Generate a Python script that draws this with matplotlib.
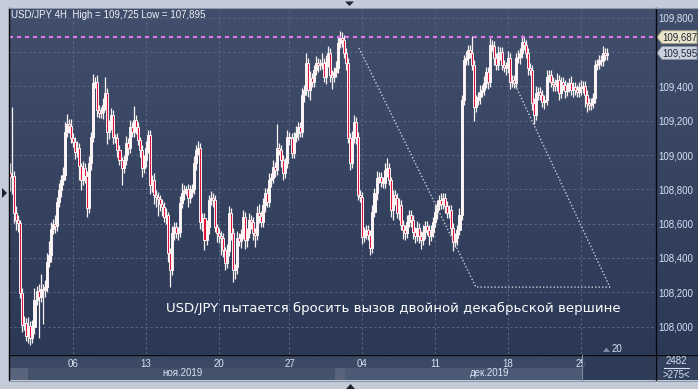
import numpy as np
import matplotlib
matplotlib.use('Agg')
import matplotlib.pyplot as plt
import matplotlib.transforms as mtrans
from matplotlib.patches import Rectangle, Polygon
from matplotlib.colors import LinearSegmentedColormap

W, H = 698, 389

# ---------------- data (USD/JPY 4H candles) ----------------
first_open = 108.895
closes = [
    108.872, 108.878, 108.662, 108.621, 108.604, 108.195, 108.009, 108.020, 107.945, 108.003,
    107.935, 107.997, 108.155, 108.207, 108.172, 108.219, 108.213, 108.230, 108.376, 108.417,
    108.569, 108.598, 108.586, 108.726, 108.796, 108.854, 108.883, 109.134, 109.181, 109.169,
    109.099, 109.076, 109.017, 109.041, 108.936, 108.854, 108.924, 108.878, 108.691, 108.953,
    109.105, 109.420, 109.426, 109.262, 109.245, 109.251, 109.292, 109.362, 109.134, 109.175,
    109.233, 109.105, 109.099, 109.029, 108.971, 108.924, 108.971, 109.070, 109.041, 109.163,
    109.134, 109.204, 109.163, 109.087, 109.029, 108.924, 108.971, 109.041, 109.117, 108.825,
    108.854, 108.767, 108.755, 108.744, 108.714, 108.697, 108.639, 108.650, 108.429, 108.330,
    108.545, 108.580, 108.545, 108.551, 108.720, 108.778, 108.796, 108.802, 108.749, 108.784,
    108.802, 108.953, 109.029, 109.041, 108.609, 108.633, 108.504, 108.580, 108.738, 108.749,
    108.738, 108.580, 108.545, 108.528, 108.516, 108.446, 108.370, 108.440, 108.662, 108.545,
    108.330, 108.347, 108.516, 108.499, 108.539, 108.639, 108.504, 108.545, 108.621, 108.609,
    108.545, 108.534, 108.662, 108.644, 108.609, 108.708, 108.778, 108.726, 108.854, 108.866,
    108.930, 108.913, 109.041, 109.029, 108.971, 108.895, 108.953, 109.105, 109.099, 109.012,
    109.105, 109.128, 109.163, 109.134, 109.350, 109.379, 109.536, 109.379, 109.449, 109.426,
    109.496, 109.536, 109.525, 109.531, 109.536, 109.455, 109.542, 109.595, 109.467, 109.455,
    109.484, 109.507, 109.653, 109.685, 109.671, 109.595, 109.536, 109.099, 108.953, 109.099,
    109.192, 109.105, 108.767, 108.755, 108.522, 108.551, 108.563, 108.534, 108.458, 108.668,
    108.778, 108.866, 108.872, 108.843, 108.837, 108.913, 108.924, 108.854, 108.679, 108.767,
    108.749, 108.662, 108.708, 108.592, 108.563, 108.545, 108.609, 108.650, 108.621, 108.551,
    108.528, 108.574, 108.528, 108.504, 108.551, 108.586, 108.563, 108.528, 108.551, 108.609,
    108.668, 108.708, 108.738, 108.714, 108.749, 108.703, 108.662, 108.679, 108.574, 108.493,
    108.516, 108.563, 108.650, 109.321, 109.554, 109.566, 109.612, 109.595, 109.525, 109.280,
    109.321, 109.338, 109.367, 109.379, 109.420, 109.484, 109.426, 109.641, 109.636, 109.566,
    109.525, 109.595, 109.601, 109.525, 109.513, 109.507, 109.566, 109.426, 109.437, 109.420,
    109.566, 109.571, 109.595, 109.659, 109.641, 109.595, 109.507, 109.496, 109.303, 109.233,
    109.362, 109.367, 109.350, 109.309, 109.321, 109.455, 109.467, 109.426, 109.414, 109.402,
    109.437, 109.362, 109.426, 109.408, 109.373, 109.397, 109.420, 109.379, 109.397, 109.379,
    109.367, 109.397, 109.391, 109.402, 109.350, 109.303, 109.292, 109.303, 109.332, 109.525,
    109.531, 109.554, 109.548, 109.595, 109.583, 109.595,
]
# wick lengths above / below the candle body, in pips (0.01 JPY)
up_wick_pips = [
    6, 40, 3, 4, 3, 2, 3, 4, 3, 5,
    3, 4, 7, 3, 4, 9, 3, 4, 5, 8,
    4, 3, 5, 3, 4, 3, 5, 6, 6, 3,
    4, 3, 3, 4, 3, 2, 4, 3, 3, 4,
    3, 5, 3, 4, 3, 3, 4, 9, 3, 3,
    4, 3, 2, 3, 3, 2, 3, 4, 3, 4,
    3, 8, 3, 3, 2, 3, 3, 4, 3, 3,
    3, 4, 3, 3, 2, 3, 3, 4, 2, 3,
    4, 3, 3, 3, 4, 6, 3, 2, 3, 4,
    3, 4, 3, 4, 3, 3, 3, 4, 3, 4,
    3, 3, 2, 3, 3, 3, 2, 4, 4, 3,
    3, 2, 4, 3, 3, 4, 3, 3, 4, 3,
    3, 3, 4, 5, 3, 4, 3, 3, 4, 3,
    4, 3, 14, 3, 3, 3, 3, 4, 3, 3,
    3, 4, 3, 3, 4, 3, 6, 3, 4, 3,
    3, 4, 3, 3, 6, 3, 4, 4, 3, 3,
    3, 4, 4, 4, 3, 3, 3, 3, 3, 4,
    4, 3, 3, 3, 3, 3, 3, 3, 3, 4,
    3, 4, 3, 3, 3, 4, 6, 3, 2, 3,
    3, 3, 4, 3, 3, 3, 4, 3, 3, 3,
    3, 4, 3, 3, 4, 3, 3, 3, 4, 3,
    4, 3, 3, 4, 3, 3, 3, 3, 3, 3,
    3, 3, 4, 3, 3, 4, 3, 3, 10, 3,
    3, 3, 4, 3, 4, 3, 3, 4, 3, 3,
    3, 4, 3, 3, 3, 3, 4, 3, 3, 3,
    3, 4, 3, 4, 3, 3, 3, 3, 3, 3,
    4, 3, 3, 3, 3, 4, 3, 3, 3, 3,
    4, 3, 3, 3, 3, 3, 3, 4, 3, 3,
    3, 3, 4, 3, 3, 3, 3, 3, 3, 3,
    3, 3, 3, 4, 3, 3,
]
dn_wick_pips = [
    8, 10, 6, 6, 5, 3, 4, 3, 3, 4,
    4, 3, 4, 3, 24, 3, 20, 4, 3, 3,
    4, 3, 4, 3, 3, 4, 3, 3, 3, 4,
    3, 3, 4, 3, 8, 6, 3, 4, 5, 3,
    4, 3, 3, 4, 3, 3, 4, 3, 7, 4,
    3, 4, 3, 4, 3, 10, 3, 3, 4, 3,
    3, 3, 4, 3, 4, 5, 3, 4, 3, 5,
    4, 5, 6, 10, 4, 5, 3, 4, 5, 10,
    3, 4, 3, 4, 3, 3, 4, 3, 5, 3,
    3, 3, 4, 3, 4, 5, 6, 3, 4, 3,
    4, 3, 5, 4, 10, 4, 4, 3, 3, 4,
    7, 5, 4, 3, 4, 3, 5, 4, 3, 4,
    4, 7, 3, 4, 3, 3, 4, 3, 3, 4,
    3, 4, 3, 3, 4, 4, 3, 3, 4, 3,
    3, 3, 4, 3, 3, 4, 3, 4, 6, 3,
    3, 3, 4, 3, 3, 3, 4, 3, 4, 7,
    3, 3, 3, 3, 4, 3, 4, 3, 4, 3,
    3, 4, 3, 3, 4, 3, 4, 3, 4, 3,
    3, 4, 3, 3, 3, 3, 4, 3, 4, 6,
    4, 3, 4, 3, 5, 4, 3, 3, 4, 4,
    4, 3, 4, 5, 3, 4, 3, 5, 3, 3,
    3, 4, 3, 3, 3, 4, 3, 3, 4, 5,
    3, 4, 3, 3, 3, 3, 4, 3, 3, 8,
    3, 3, 4, 3, 3, 3, 4, 3, 3, 4,
    3, 3, 4, 3, 3, 4, 3, 4, 3, 3,
    3, 3, 4, 3, 3, 3, 4, 3, 4, 5,
    3, 4, 3, 3, 4, 3, 3, 3, 4, 3,
    3, 4, 3, 3, 4, 3, 3, 3, 4, 3,
    3, 3, 4, 3, 7, 5, 3, 3, 3, 3,
    3, 3, 3, 3, 3, 3,
]

xtick_idx = [31, 67, 103, 138, 174, 210, 246, 282]
xtick_labels = ['06', '13', '20', '27', '04', '11', '18', '25']
month_idx = [85, 237]
month_labels = ['ноя.2019', 'дек.2019']
ytick_vals = [108.0, 108.2, 108.4, 108.6, 108.8, 109.0, 109.2, 109.4, 109.6, 109.8]
hidden_ytick = 109.6          # its label is covered by the price tags
resistance = 109.687
last_price = 109.595
title = 'USD/JPY 4H  High = 109,725 Low = 107,895'
note = 'USD/JPY пытается бросить вызов двойной декабрьской вершине'
tri_x = [172.3, 230.1, 296.3, 247.9]
tri_y = [109.624, 108.230, 108.230, 109.449]

# ---------------- figure ----------------
fig = plt.figure(figsize=(W / 100, H / 100), dpi=100, facecolor='#c3ccd8')


def px_rect(x0, y0, x1, y1):
    return [x0 / W, 1 - y1 / H, (x1 - x0) / W, (y1 - y0) / H]


# gradient background of the chart panel
bg = fig.add_axes(px_rect(9, 8, 698, 354), zorder=0)
cmap = LinearSegmentedColormap.from_list('g', ['#424f6c', '#2b3856'])
bg.imshow(np.linspace(0, 1, 256).reshape(-1, 1), aspect='auto', cmap=cmap,
          extent=[0, 1, 0, 1], interpolation='bilinear')
bg.axis('off')

# under-layer for the time-axis panel
under = fig.add_axes([0, 0, 1, 1], zorder=0.5)
under.set_xlim(0, W); under.set_ylim(H, 0); under.axis('off')
for (x0, y0, x1, y1, col) in [(9, 354, 698, 380, '#3c4965'),
                              (9, 368, 335, 380, '#44516b'),
                              (335, 368, 582, 380, '#4b5974'),
                              (10, 368, 28, 380, '#58647c'),
                              (335, 368, 345, 380, '#58647c'),
                              (656, 355, 698, 380, '#34415e')]:
    under.add_patch(Rectangle((x0, y0), x1 - x0, y1 - y0, color=col, lw=0))

# main price axes
ax = fig.add_axes(px_rect(9, 8, 655, 354), zorder=1)
ax.set_facecolor('none')
ax.set_xlim(-0.6, 318.6)
ax.set_ylim(107.840, 109.857)
for s in ax.spines.values():
    s.set_visible(False)

n = len(closes)
opens = np.array([first_open] + closes[:-1])
c = np.array(closes)
xs = np.arange(n)
top = np.maximum(opens, c)
bot = np.minimum(opens, c)
hi = top + np.array(up_wick_pips) * 0.01
lo = bot - np.array(dn_wick_pips) * 0.01
ax.vlines(xs, lo, hi, color='#fbf3f3', lw=0.9, zorder=3)
bull = c >= opens
ax.bar(xs, np.maximum(top - bot, 0.004), bottom=bot, width=1.0,
       color=np.where(bull, '#fdf6f6', '#e3123d'), edgecolor='#fbf3f3',
       linewidth=0.7, zorder=4)

ax.set_xticks(xtick_idx)
ax.set_xticklabels(xtick_labels)
ax.set_yticks(ytick_vals)
ax.set_yticklabels(['' if abs(v - hidden_ytick) < 1e-9 else f'{v:.3f}'.replace('.', ',')
                    for v in ytick_vals])
ax.yaxis.tick_right()
ax.tick_params(axis='both', length=0, labelsize=7, labelcolor='#d4e2f2')
ax.tick_params(axis='y', pad=2.5)
ax.tick_params(axis='x', pad=3.5)
for lab in ax.get_xticklabels() + ax.get_yticklabels():
    lab.set_fontfamily('Liberation Sans')
ax.grid(True, color='#5a6783', lw=0.7, linestyle=(0, (2.5, 2.5)))
ax.set_axisbelow(True)

ax.axhline(resistance, color='#dc78ea', lw=1.6, linestyle=(0, (1.8, 1.8)), zorder=5)
ax.plot(tri_x, tri_y, color='#c9ced8', lw=1.0, linestyle=(0, (1, 1.5)), zorder=5)

# month labels under the day ticks
btr = mtrans.blended_transform_factory(ax.transData, fig.transFigure)
for mi, ml in zip(month_idx, month_labels):
    ax.text(mi, 1 - 373.5 / H, ml, transform=btr, ha='center', va='center',
            fontsize=7, color='#d4e2f2', family='Liberation Sans', clip_on=False)

# ---------------- overlay ----------------
ov = fig.add_axes([0, 0, 1, 1], zorder=5)
ov.set_xlim(0, W); ov.set_ylim(H, 0); ov.axis('off')


def price_to_px(p):
    return H - ax.transData.transform((0, p))[1]


# borders
ov.plot([655.5, 655.5], [8, 380], color='#07090e', lw=1)
ov.plot([9, 698], [354.5, 354.5], color='#07090e', lw=1)
ov.plot([8.5, 8.5], [8, 380], color='#07090e', lw=1)
ov.plot([9, 698], [7.5, 7.5], color='#8c97a8', lw=0.8)
ov.plot([9, 698], [380.5, 380.5], color='#8c97a8', lw=0.8)

# navigation triangles
ov.add_patch(Polygon([(345, 1.5), (354, 1.5), (349.5, 6)], color='#1c2230', lw=0))
ov.add_patch(Polygon([(2, 188), (2, 198), (7, 193)], color='#1c2230', lw=0))
ov.add_patch(Polygon([(346, 389), (355, 389), (350.5, 384)], color='#1c2230', lw=0))

# scroll box at the right of the time axis
ov.add_patch(Rectangle((582, 355), 73, 25, color='#2c3955', alpha=0.8, lw=0))
ov.plot([581.5, 581.5], [355, 380], color='#7d8aa0', lw=0.8)
ov.add_patch(Polygon([(603, 352), (610, 352), (606.5, 347.5)], color='#7f8ca3', lw=0))
ov.text(612, 349, '20', fontsize=7, color='#d4e2f2', family='Liberation Sans',
        ha='left', va='center')

# bottom-right counters
ov.text(676.5, 361.5, '2482', fontsize=7, color='#d4e2f2', family='Liberation Sans',
        ha='center', va='center')
ov.plot([664, 689], [367.5, 367.5], color='#d4e2f2', lw=0.8)
ov.text(676.5, 375, '>275<', fontsize=7, color='#d4e2f2', family='Liberation Sans',
        ha='center', va='center')

# price tags on the right axis
for p, face, edge in [(resistance, '#ebe5cb', '#a39d84'), (last_price, '#cbd3de', '#8a94a4')]:
    yc = price_to_px(p)
    ov.add_patch(Polygon([(657, yc), (662, yc - 6.5), (697, yc - 6.5), (697, yc + 6.5),
                          (662, yc + 6.5)], facecolor=face, edgecolor=edge, lw=0.7))
    ov.text(679.5, yc + 0.3, f'{p:.3f}'.replace('.', ','), fontsize=7, color='#1e2636',
            family='Liberation Sans', ha='center', va='center')

# title and note
ov.text(11, 14.5, title, fontsize=7, color='#eef2f8', family='Liberation Sans',
        ha='left', va='center')
ov.text(393, 308, note, fontsize=9.5, color='#ffffff', family='DejaVu Sans',
        ha='center', va='center')

fig.savefig('out.png', dpi=100, facecolor=fig.get_facecolor())
